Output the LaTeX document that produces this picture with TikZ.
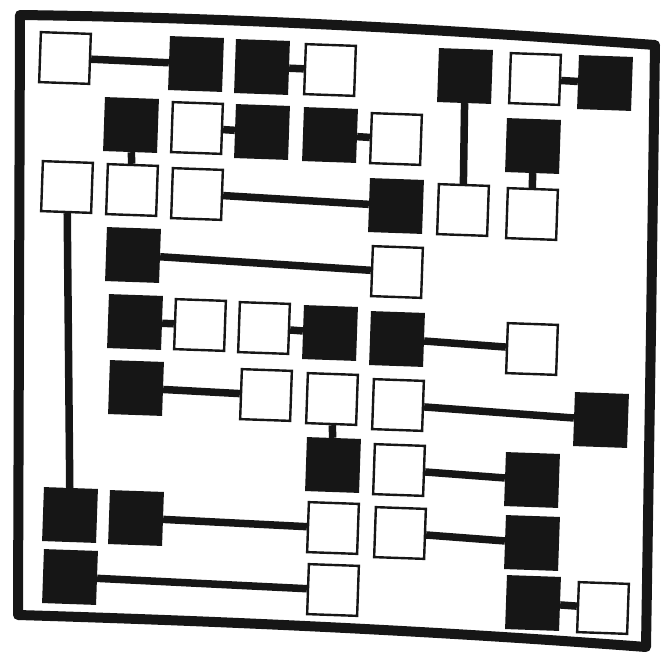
\documentclass[tikz,border=0pt]{standalone}
\usepackage{tikz}
\usetikzlibrary{positioning}
\definecolor{inkBlack}{RGB}{22,22,22}
\definecolor{paperWhite}{RGB}{255,255,255}

\begin{document}
\begin{tikzpicture}[
    x=1pt, y=-1pt,
    wbox/.style={rectangle, draw=inkBlack, fill=paperWhite, line width=2.4pt, minimum size=50pt, inner sep=0pt, rotate=-2},
    bbox/.style={rectangle, fill=inkBlack, minimum size=54pt, inner sep=0pt, rotate=-2},
    link/.style={draw=inkBlack, line width=7.5pt},
    frame/.style={draw=inkBlack, line width=10pt, line join=round}
]
\useasboundingbox (0,0) rectangle (665,656);

% outer hand-drawn frame
\draw[frame] (20,15) .. controls (250,18) and (450,30) .. (655,45)
  -- (651,330) -- (646,647)
  .. controls (450,632) and (250,622) .. (18,615) -- cycle;

% connectors first, boxes drawn over them
\foreach \n/\x/\y in {r1c3/196/64,r1c4/262/67,r1c7/465/76,r1c9/605/83,
  r2c2/131/125,r2c4/262/132,r2c5/330/135,r2c8/533/146,r3c6/396/206,
  r4c2/133/255,r5c2/135/322,r5c5/330/333,r5c6/397/339,r6c2/136/388,
  r6c9/601/420,r7c5/333/465,r7c8/532/480,r8c1/70/515,r8c2/136/518,
  r8c8/532/543,r9c1/70/577,r9c8/533/603} {
  \node[bbox] (\n) at (\x,\y) {};
}
\foreach \n/\x/\y in {r1c1/65/58,r1c5/330/70,r1c8/535/79,r2c3/197/128,
  r2c6/396/139,r3c1/67/187,r3c2/132/190,r3c3/197/194,r3c7/463/210,
  r3c8/532/214,r4c6/397/272,r5c3/200/325,r5c4/264/328,r5c8/532/349,
  r6c4/266/395,r6c5/332/399,r6c6/398/405,r7c6/399/470,r8c5/333/528,
  r8c6/400/533,r9c5/333/590,r9c9/603/608} {
  \node[wbox] (\n) at (\x,\y) {};
}
\foreach \a/\b in {r1c1/r1c3,r1c4/r1c5,r1c8/r1c9,r1c7/r3c7,r2c2/r3c2,
  r2c3/r2c4,r2c5/r2c6,r2c8/r3c8,r3c3/r3c6,r3c1/r8c1,r4c2/r4c6,r5c2/r5c3,
  r5c4/r5c5,r5c6/r5c8,r6c2/r6c4,r6c5/r7c5,r6c6/r6c9,r7c6/r7c8,r8c2/r8c5,
  r8c6/r8c8,r9c1/r9c5,r9c8/r9c9} \draw[link] (\a)--(\b);
\end{tikzpicture}
\end{document}
